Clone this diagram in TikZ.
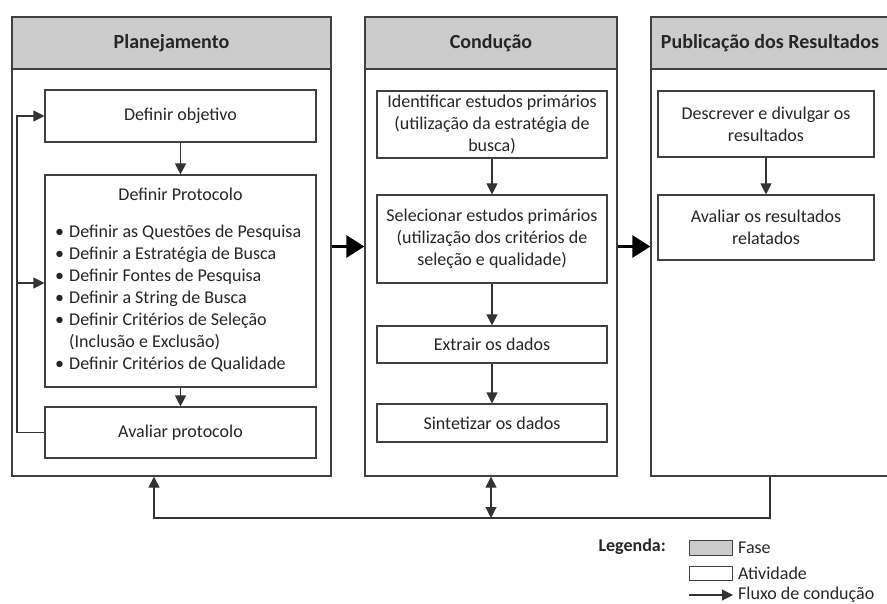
\documentclass[tikz,border=0pt]{standalone}
\usepackage{fontspec}
\setmainfont{Carlito}
\usetikzlibrary{arrows.meta}
\begin{document}
\begin{tikzpicture}[x=1pt,y=-1pt,
  every node/.style={font=\fontsize{18}{22}\selectfont, text=black!85},
  phase/.style={draw=black!75, line width=1.3pt, fill=white, inner sep=0},
  head/.style={draw=black!75, line width=1.3pt, fill=black!20, inner sep=0, font=\fontsize{20}{24}\selectfont\bfseries},
  act/.style={draw=black!75, line width=1.1pt, fill=white, align=center, inner sep=0},
  flow/.style={draw=black!80, line width=1.1pt, -{Triangle[length=11pt,width=11pt]}},
  both/.style={draw=black!80, line width=1.1pt, {Triangle[length=11pt,width=11pt]}-{Triangle[length=11pt,width=11pt]}},
  big/.style={draw=black, line width=3pt, -{Triangle[length=18pt,width=22pt]}}
]
\useasboundingbox (0,0) rectangle (887,604);

% Phase 1
\node[phase, minimum width=319pt, minimum height=459pt] (p1) at (171.5,246.5) {};
\node[head, minimum width=319pt, minimum height=52pt] (h1) at (171.5,43) {Planejamento};
\node[act, minimum width=271pt, minimum height=52pt] (obj) at (180.5,116) {Definir objetivo};
\node[act, minimum width=271pt, minimum height=212pt] (prot) at (180.5,281) {};
\node[inner sep=0] (ptitle) at (180.5,194) {Definir Protocolo};
\node[inner sep=0, anchor=north west, align=left] (plist) at (55,225) {%
\makebox[14pt][l]{\textbullet}Definir as Questões de Pesquisa\\
\makebox[14pt][l]{\textbullet}Definir a Estratégia de Busca\\
\makebox[14pt][l]{\textbullet}Definir Fontes de Pesquisa\\
\makebox[14pt][l]{\textbullet}Definir a String de Busca\\
\makebox[14pt][l]{\textbullet}Definir Critérios de Seleção\\
\hspace*{14pt}(Inclusão e Exclusão)\\
\makebox[14pt][l]{\textbullet}Definir Critérios de Qualidade};
\node[act, minimum width=271pt, minimum height=51pt] (aval) at (180.5,432.5) {Avaliar protocolo};

\draw[flow] (obj) -- (prot);
\draw[flow] (prot) -- (aval);
\coordinate (fb) at (17,0);
\draw[flow] (aval.west) -- (aval.west -| fb) -- (obj.west -| fb) -- (obj.west);
\draw[flow] ([yshift=-2pt]prot.west -| fb) -- ([yshift=-2pt]prot.west);

% Phase 2
\node[phase, minimum width=252pt, minimum height=459pt] (p2) at (491,246.5) {};
\node[head, minimum width=252pt, minimum height=52pt] (h2) at (491,43) {Condução};
\node[act, minimum width=230pt, minimum height=67pt] (id) at (492,124.5) {Identificar estudos primários\\(utilização da estratégia de\\busca)};
\node[act, minimum width=230pt, minimum height=88pt] (sel) at (492,239) {Selecionar estudos primários\\(utilização dos critérios de\\seleção e qualidade)};
\node[act, minimum width=230pt, minimum height=37pt] (ext) at (492,344.5) {Extrair os dados};
\node[act, minimum width=230pt, minimum height=38pt] (sin) at (492,423) {Sintetizar os dados};
\draw[flow] (id) -- (sel);
\draw[flow] (sel) -- (ext);
\draw[flow] (ext) -- (sin);

% Phase 3
\node[phase, minimum width=238pt, minimum height=459pt] (p3) at (770,246.5) {};
\node[head, minimum width=238pt, minimum height=52pt] (h3) at (770,43) {Publicação dos Resultados};
\node[act, minimum width=216pt, minimum height=66pt] (desc) at (766,124) {Descrever e divulgar os\\resultados};
\node[act, minimum width=216pt, minimum height=65pt] (avr) at (766,227.5) {Avaliar os resultados\\relatados};
\draw[flow] (desc) -- (avr);

% Phase arrows
\draw[big] (p1.east) -- (p2.west);
\draw[big] (p2.east) -- (p3.west);

% Bottom loop
\coordinate (b1) at (154,518);
\draw[flow] (p3.south) -- (p3.south |- b1) -- (b1) -- (b1 |- p1.south);
\draw[both] (p2.south |- b1) -- (p2.south);

% Legend
\node[inner sep=0, anchor=east, font=\fontsize{18}{22}\selectfont\bfseries] (leg) at (666,547) {Legenda:};
\node[draw=black!75, line width=1pt, fill=black!20, minimum width=43pt, minimum height=15pt, inner sep=0] (lf) at (710.5,547.5) {};
\node[inner sep=0, anchor=west] (lft) at (738,547.5) {Fase};
\node[draw=black!75, line width=1pt, fill=white, minimum width=43pt, minimum height=14pt, inner sep=0] (la) at (710.5,573) {};
\node[inner sep=0, anchor=west] (lat) at (738,573) {Atividade};
\coordinate (lfl) at (689,595);
\coordinate (lfr) at (733,595);
\node[inner sep=0, anchor=west] (lflt) at (738,595) {Fluxo de condução};
\draw[flow] (lfl) -- (lfr);
\end{tikzpicture}
\end{document}
